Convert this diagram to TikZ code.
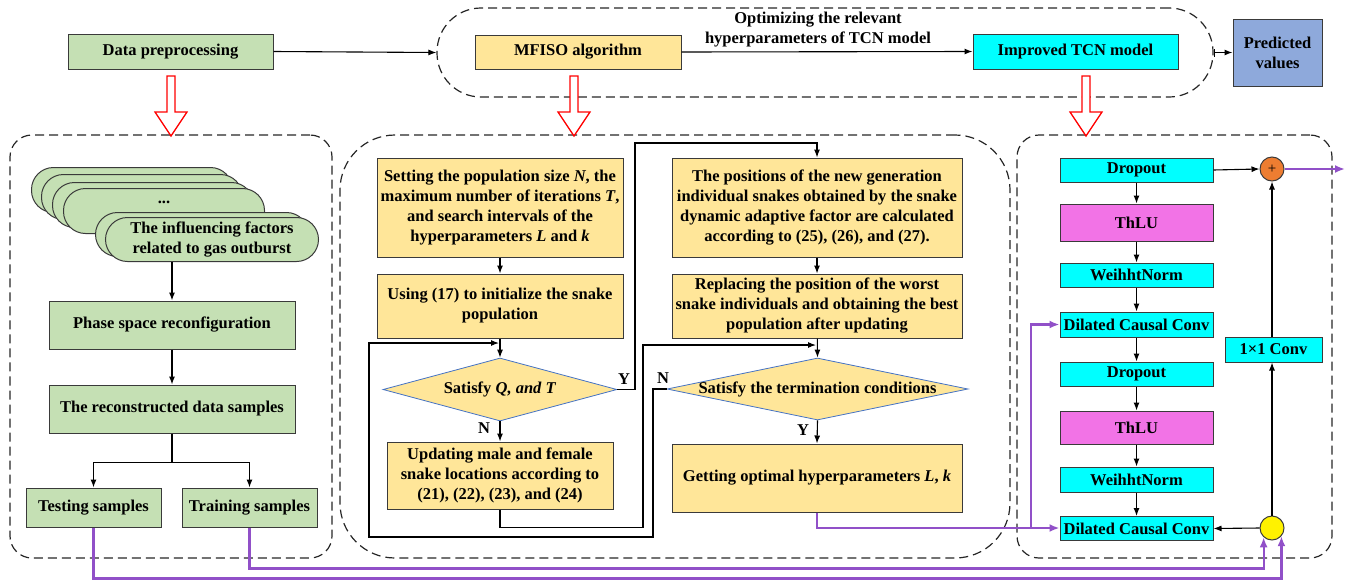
\documentclass[tikz,border=0pt]{standalone}
\usepackage{fontspec}
\setmainfont{Liberation Serif}
\usetikzlibrary{arrows.meta,calc,shapes.geometric}
\definecolor{gfill}{HTML}{C5E0B4}
\definecolor{yfill}{HTML}{FFE699}
\definecolor{cfill}{HTML}{00FFFF}
\definecolor{bfill}{HTML}{8EA9DB}
\definecolor{mfill}{HTML}{F273E6}
\definecolor{ofill}{HTML}{ED7D31}
\definecolor{purp}{HTML}{9150C8}
\definecolor{dblue}{HTML}{4472C4}
\definecolor{edgec}{HTML}{3A3A3A}
\newcommand\fs{\fontsize{16.5}{20}\selectfont\bfseries}
\begin{document}
\begin{tikzpicture}[x=1pt,y=-1pt,
 every node/.style={font=\fs},
 box/.style={draw=edgec, line width=1pt, inner sep=0pt, align=center},
 gbox/.style={box, fill=gfill},
 ybox/.style={box, fill=yfill},
 cbox/.style={box, fill=cfill},
 mbox/.style={box, fill=mfill},
 pill/.style={draw=edgec, line width=1pt, fill=gfill, rounded corners=22pt, minimum width=201pt, minimum height=45pt, inner sep=0pt, align=center},
 dia/.style={diamond, draw=dblue, line width=0.8pt, fill=yfill, inner sep=0pt},
 group/.style={draw=black!85, line width=1.2pt, dash pattern=on 9pt off 5pt, inner sep=0pt},
 arr/.style={line width=1.1pt, -{Latex[length=8pt,width=6pt]}},
 parr/.style={draw=purp, line width=2.2pt, -{Latex[length=10pt,width=8pt]}},
 pline/.style={draw=purp, line width=2.2pt},
 redarrow/.style={draw=red, line width=1.3pt, fill=white},
 lbl/.style={inner sep=0pt, align=center}
]
\useasboundingbox (0,0) rectangle (1356,581);
% groups
\node[group, rounded corners=44pt, minimum width=776pt, minimum height=89pt] (topgrp) at (825,52.5) {};
\node[group, rounded corners=22pt, minimum width=322pt, minimum height=423pt] (lgrp) at (171,346.5) {};
\node[group, rounded corners=55pt, minimum width=670pt, minimum height=423pt] (mgrp) at (675,346.5) {};
\node[group, rounded corners=22pt, minimum width=315pt, minimum height=423pt] (rgrp) at (1174.5,346.5) {};
% red arrows
\foreach \x in {171,574,1086}
  \draw[redarrow] ({\x-4},76) -- ({\x+4},76) -- ({\x+4},112) -- ({\x+16},112) -- (\x,136) -- ({\x-16},112) -- ({\x-4},112) -- cycle;
% top row
\node[gbox, minimum width=205pt, minimum height=35pt] (dp) at (170.5,51.5) {Data preprocessing};
\node[ybox, minimum width=206pt, minimum height=34pt] (mf) at (578,52) {MFISO algorithm};
\node[cbox, minimum width=205pt, minimum height=35pt] (tcn) at (1075.5,51.5) {Improved TCN model};
\node[box, fill=bfill, minimum width=89pt, minimum height=67pt] (pred) at (1277.5,52.5) {Predicted\\values};
\node[lbl] (opt) at (818,30) {Optimizing the relevant\\hyperparameters of TCN model};
\draw[arr] (dp.east) -- (topgrp.west);
\draw[arr] (mf.east) -- (tcn.west);
\draw[line width=1.1pt, {Bar[width=8pt]}-{Latex[length=8pt,width=6pt]}] (topgrp.east) -- (pred.west);
% left column
\foreach \i/\x/\y in {1/31/167,2/41/174,3/52/182,4/63/188}
  \node[pill, anchor=north west] (p\i) at (\x,\y) {};
\node[lbl] (dots) at (164,202) {...};
\node[pill, anchor=north west, minimum width=213pt, minimum height=44pt] (p5) at (95,212) {};
\node[pill, anchor=north west, minimum width=213pt, minimum height=44pt] (p6) at (105,217) {The influencing factors\\related to gas outburst};
\node[gbox, minimum width=246pt, minimum height=48pt] (ps) at (172,325) {Phase space reconfiguration};
\node[gbox, minimum width=246pt, minimum height=48pt] (rc) at (172,409) {The reconstructed data samples};
\node[gbox, minimum width=135pt, minimum height=39pt] (te) at (93.5,507.5) {Testing samples};
\node[gbox, minimum width=135pt, minimum height=39pt] (tr) at (249.5,507.5) {Training samples};
\draw[arr] (p6.south -| ps.north) -- (ps.north);
\draw[arr] (ps) -- (rc);
\draw[arr] (rc.south) -- ++(0,29) -| (te.north);
\draw[arr] (rc.south) -- ++(0,29) -| (tr.north);
% middle column
\node[ybox, minimum width=246pt, minimum height=99pt] (b1) at (500,207.5) {Setting the population size \textit{N}, the\\maximum number of iterations \textit{T},\\and search intervals of the\\hyperparameters \textit{L} and \textit{k}};
\node[ybox, minimum width=246pt, minimum height=64pt] (b2) at (500,306) {Using (17) to initialize the snake\\population};
\node[dia, minimum width=234pt, minimum height=63pt] (d1) at (500,389.5) {};
\node[lbl] (d1t) at (d1) {Satisfy \textit{Q, and T}};
\node[ybox, minimum width=226pt, minimum height=67pt] (b3) at (500,475.5) {Updating male and female\\snake locations according to\\(21), (22), (23), and (24)};
\node[ybox, minimum width=290pt, minimum height=99pt] (b4) at (817,207.5) {The positions of the new generation\\individual snakes obtained by the snake\\dynamic adaptive factor are calculated\\according to (25), (26), and (27).};
\node[ybox, minimum width=290pt, minimum height=64pt] (b5) at (817,306) {Replacing the position of the worst\\snake individuals and obtaining the best\\population after updating};
\node[dia, minimum width=301pt, minimum height=62pt] (d2) at (817.5,389) {};
\node[lbl] (d2t) at (d2) {Satisfy the termination conditions};
\node[ybox, minimum width=290pt, minimum height=68pt] (b6) at (817,478) {Getting optimal hyperparameters \textit{L}, \textit{k}};
\node[lbl] (n1) at (484,428) {N};
\node[lbl] (y1) at (624,379) {Y};
\node[lbl] (n2) at (663,378) {N};
\node[lbl] (y2) at (803,430) {Y};
\draw[arr] (b1) -- (b2);
\draw[arr] (b2) -- (d1);
\draw[arr] (d1) -- (b3);
\draw[arr] (d1.east) -- (635,389.5) |- (817,143) -- (b4.north);
\draw[arr] (b4) -- (b5);
\draw[arr] (b5) -- (d2.north);
\draw[arr] (d2.south) -- (b6.north);
\draw[arr] (b3.south) -- ++(0,18) -| (643,345) -- (816,345);
\draw[arr] (d2.west) -- (653,389) |- (369,537) |- (499,343);
% right column
\node[cbox, minimum width=153pt, minimum height=24pt] (dr1) at (1136.5,170) {Dropout};
\node[mbox, minimum width=153pt, minimum height=37pt] (th1) at (1136.5,222.5) {ThLU};
\node[cbox, minimum width=153pt, minimum height=24pt] (wn1) at (1136.5,275) {WeihhtNorm};
\node[cbox, minimum width=153pt, minimum height=25pt] (dc1) at (1136.5,324.5) {Dilated Causal Conv};
\node[cbox, minimum width=153pt, minimum height=24pt] (dr2) at (1136.5,374) {Dropout};
\node[mbox, minimum width=153pt, minimum height=33pt] (th2) at (1136.5,427.5) {ThLU};
\node[cbox, minimum width=153pt, minimum height=25pt] (wn2) at (1136.5,479.5) {WeihhtNorm};
\node[cbox, minimum width=153pt, minimum height=24pt] (dc2) at (1136.5,528.5) {Dilated Causal Conv};
\foreach \a/\b in {dr1/th1,th1/wn1,wn1/dc1,dc1/dr2,dr2/th2,th2/wn2,wn2/dc2}
  \draw[arr] (\a) -- (\b);
\node[circle, draw=edgec, line width=1pt, fill=ofill, minimum size=24pt, inner sep=0pt, font=\fontsize{15}{15}\selectfont] (plus) at (1272,169) {+};
\node[circle, draw=edgec, line width=1pt, fill=yellow, minimum size=24pt, inner sep=0pt] (yel) at (1272,528) {};
\node[cbox, minimum width=97pt, minimum height=25pt] (conv) at (1273.5,349.5) {1×1 Conv};
\coordinate (out) at (1345,169);
\draw[arr] (dr1.east) -- (plus.west);
\draw[parr] (plus.east) -- (out);
\draw[arr] (yel.north) -- (yel.north |- conv.south);
\draw[arr] (conv.north -| plus.south) -- (plus.south);
\draw[arr] (yel.west) -- (dc2.east);
% purple connectors
\coordinate (jn) at (1031,528);
\draw[pline] (b6.south) |- (jn);
\draw[parr] (jn) -- (jn -| dc2.west);
\draw[parr] (jn) |- (dc1.west);
\draw[parr] (te.south) -- ++(0,51) -| (yel.-41);
\draw[parr] (tr.south) -- ++(0,41) -| (yel.-132);
\end{tikzpicture}
\end{document}
